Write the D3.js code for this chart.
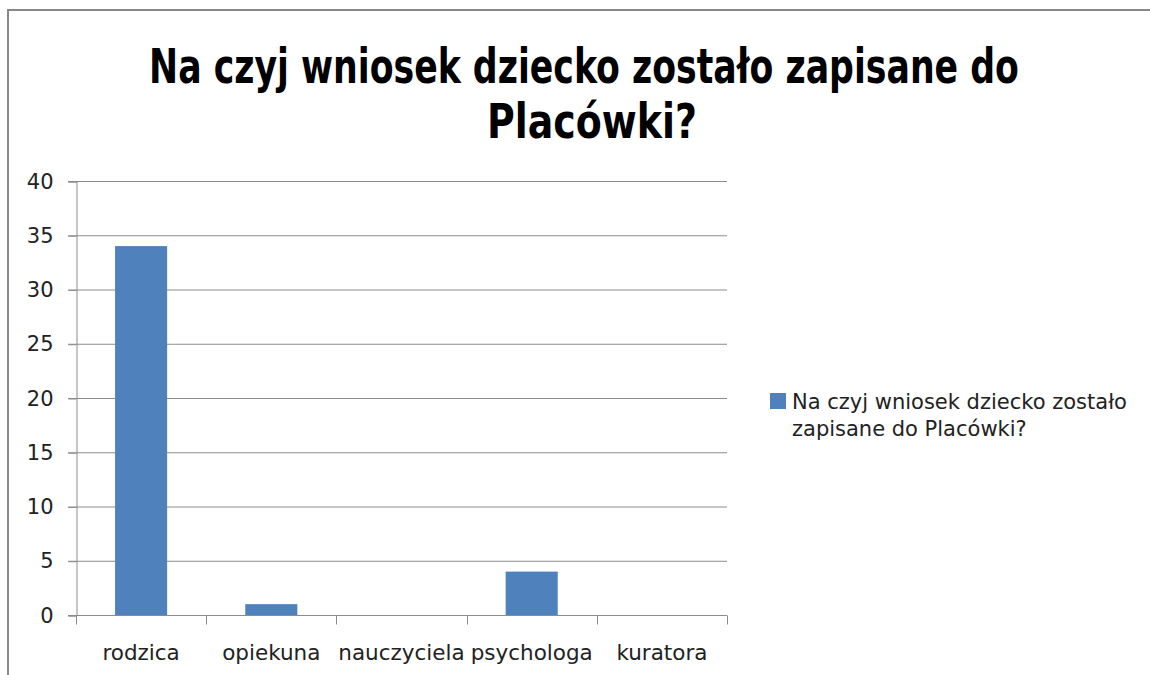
<!DOCTYPE html>
<html>
<head>
<meta charset="utf-8">
<script src="https://cdn.jsdelivr.net/npm/d3@7"></script>
<style>
  body { margin: 0; background: #fff; }
  text { font-family: "DejaVu Sans", sans-serif; fill: #222; }
</style>
</head>
<body>
<div id="chart"></div>
<script>
// column chart, one series

const titleLines = ["Na czyj wniosek dziecko zostało zapisane do", "Placówki?"];
const categories = ["rodzica", "opiekuna", "nauczyciela", "psychologa", "kuratora"];
const values = [34, 1, 0, 4, 0];
const yTicks = [0, 5, 10, 15, 20, 25, 30, 35, 40];
const legendLines = ["Na czyj wniosek dziecko zostało", "zapisane do Placówki?"];

const W = 1150, H = 675;
const plot = { left: 76, right: 727, top: 181, bottom: 615 };

const svg = d3.select("#chart").append("svg")
  .attr("width", W)
  .attr("height", H);

svg.append("rect")
  .attr("x", 8).attr("y", 10)
  .attr("width", 1300).attr("height", 900)
  .attr("fill", "none")
  .attr("stroke", "#888")
  .attr("stroke-width", 2);

// title - condensed look of the original, squeeze horizontally to fit
const titlePos = [[584, 83, 870], [592, 138, 210]];
titleLines.forEach((line, i) => {
  const [tx, ty, tw] = titlePos[i];
  const g = svg.append("g");
  const t = g.append("text")
    .attr("text-anchor", "middle")
    .attr("font-size", 48).attr("font-weight", "bold")
    .style("fill", "#000")
    .text(line);
  const sx = tw / t.node().getComputedTextLength();
  g.attr("transform", `translate(${tx},${ty}) scale(${sx},1)`);
});

const x = d3.scaleBand()
  .domain(categories)
  .range([plot.left, plot.right])
  .padding(0);

const y = d3.scaleLinear()
  .domain([0, 40])
  .range([plot.bottom, plot.top]);

// gridlines
svg.append("g")
  .selectAll("line")
  .data(yTicks)
  .enter()
  .append("line")
  .attr("x1", plot.left - 8)
  .attr("x2", plot.right)
  .attr("y1", d => y(d) + 0.5)
  .attr("y2", d => y(d) + 0.5)
  .attr("stroke", "#8c8c8c")
  .attr("stroke-width", 1);

// y axis
const yAxis = svg.append("g")
  .attr("transform", `translate(${plot.left + 0.5},0.5)`)
  .call(d3.axisLeft(y).tickValues(yTicks).tickSize(8).tickPadding(15));
yAxis.select(".domain").attr("stroke", "#8c8c8c");
yAxis.selectAll(".tick line").attr("stroke", "#8c8c8c");
yAxis.selectAll(".tick text")
  .attr("font-size", 21)
  .attr("font-family", "DejaVu Sans")
  .style("fill", "#222");

// bars
svg.append("g")
  .selectAll("rect")
  .data(values)
  .enter()
  .append("rect")
  .attr("x", (d, i) => x(categories[i]) + x.bandwidth() * 0.3)
  .attr("y", d => y(d))
  .attr("width", x.bandwidth() * 0.4)
  .attr("height", d => y(0) - y(d))
  .attr("fill", "#4f81bd");

// x axis: ticks sit on the category boundaries
const xAxis = svg.append("g")
  .attr("transform", `translate(0,${plot.bottom + 0.5})`);
xAxis.append("line")
  .attr("x1", plot.left).attr("x2", plot.right)
  .attr("stroke", "#8c8c8c");
xAxis.selectAll(".bound")
  .data(categories.concat(["end"]))
  .enter()
  .append("line")
  .attr("class", "bound")
  .attr("x1", (d, i) => Math.round(plot.left + i * x.step()) + 0.5)
  .attr("x2", (d, i) => Math.round(plot.left + i * x.step()) + 0.5)
  .attr("y1", 0).attr("y2", 9)
  .attr("stroke", "#8c8c8c");
xAxis.selectAll(".lbl")
  .data(categories)
  .enter()
  .append("text")
  .attr("class", "lbl")
  .attr("x", d => x(d) + x.bandwidth() / 2)
  .attr("y", 44)
  .attr("text-anchor", "middle")
  .attr("font-size", 21.5)
  .text(d => d);

// legend
const legend = svg.append("g");
legend.append("rect")
  .attr("x", 770).attr("y", 393)
  .attr("width", 16).attr("height", 16)
  .attr("fill", "#4f81bd");
legend.selectAll("text")
  .data(legendLines)
  .enter()
  .append("text")
  .attr("x", 792)
  .attr("y", (d, i) => 409 + i * 27)
  .attr("font-size", 21)
  .text(d => d);
</script>
</body>
</html>
